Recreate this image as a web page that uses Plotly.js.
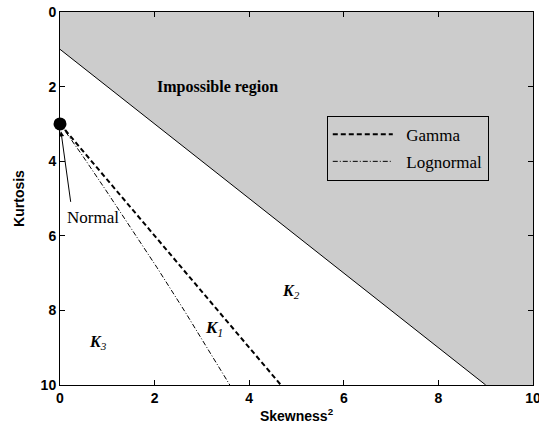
<!DOCTYPE html>
<html>
<head>
<meta charset="utf-8">
<script src="https://cdn.plot.ly/plotly-3.0.1.min.js"></script>
<style>html,body{margin:0;padding:0;background:#fff;}#chart{width:539px;height:433px;}</style>
</head>
<body>
<div id="chart"></div>
<script>
// Boundary of the impossible region (kurtosis = skewness^2 + 1)
const boundarySkew2 = [0, 9];
const boundaryKurt = [1, 10];
// Impossible region polygon
const impossibleSkew2 = [0, 9, 10, 10, 0, 0];
const impossibleKurt = [1, 10, 10, 0, 0, 1];
// Gamma line
const gammaSkew2 = [0, 1.0, 2.0, 3.0, 4.0, 4.67];
const gammaKurt = [3, 4.5, 6.0, 7.5, 9.0, 10];
// Lognormal curve
const lognormSkew2 = [0, 0.47, 0.96, 1.49, 2.05, 2.64, 3.27, 3.59];
const lognormKurt = [3, 3.84, 4.76, 5.76, 6.85, 8.03, 9.32, 10];
// Normal point
const normalSkew2 = [0];
const normalKurt = [3];
// Axis ticks
const xTicks = [0, 2, 4, 6, 8, 10];
const yTicks = [0, 2, 4, 6, 8, 10];

const serif = "Liberation Serif, Times New Roman, serif";
const sans = "Liberation Sans, Arial, sans-serif";

const traces = [
  {x: impossibleSkew2, y: impossibleKurt, mode: 'lines', fill: 'toself',
   fillcolor: '#cccccc', line: {width: 0, color: '#cccccc'}, showlegend: false, hoverinfo: 'skip'},
  {x: boundarySkew2, y: boundaryKurt, mode: 'lines', line: {color: '#000', width: 1},
   showlegend: false},
  {x: gammaSkew2, y: gammaKurt, mode: 'lines', name: '&nbsp;&nbsp;Gamma', legendgroup: 'g',
   line: {color: '#000', width: 2, dash: '5px,3px'}},
  {x: lognormSkew2, y: lognormKurt, mode: 'lines', name: '&nbsp;&nbsp;Lognormal', legendgroup: 'l',
   line: {color: '#000', width: 1, dash: '5px,2px,1px,2px'}},
  {x: normalSkew2, y: normalKurt, mode: 'markers', showlegend: false, cliponaxis: false,
   marker: {color: '#000', size: 13, symbol: 'circle'}}
];

const axisCommon = {
  showgrid: false, zeroline: false, showline: true, linecolor: '#000', linewidth: 1,
  mirror: 'ticks', ticks: 'inside', ticklen: 5, tickcolor: '#000',
  ticklabeloverflow: 'allow',
  tickfont: {family: sans, size: 14, color: '#000', weight: 'bold'}
};

const layout = {
  width: 539, height: 433,
  margin: {l: 60, r: 6, t: 12, b: 48},
  paper_bgcolor: '#fff', plot_bgcolor: '#fff',
  showlegend: true,
  legend: {x: 0.564, y: 0.722, xanchor: 'left', yanchor: 'top',
           bgcolor: 'rgba(0,0,0,0)', bordercolor: '#000', borderwidth: 1,
           font: {family: serif, size: 17, color: '#000'}, itemwidth: 60,
           tracegroupgap: 2},
  xaxis: Object.assign({}, axisCommon, {
    range: [0, 10], tickvals: xTicks, ticktext: xTicks.map(String),
    title: {text: 'Skewness<sup>2</sup>', standoff: 6,
            font: {family: sans, size: 14, color: '#000', weight: 'bold'}}
  }),
  yaxis: Object.assign({}, axisCommon, {
    range: [10, 0], tickvals: yTicks, ticktext: yTicks.map(String),
    title: {text: 'Kurtosis', standoff: 12,
            font: {family: sans, size: 14, color: '#000', weight: 'bold'}}
  }),
  annotations: [
    {x: 3.32, y: 2.02, text: '<b>Impossible region</b>', showarrow: false,
     font: {family: serif, size: 16, color: '#000'}},
    {x: 0.7, y: 5.5, text: 'Normal', showarrow: false,
     font: {family: serif, size: 17, color: '#000'}},
    {x: 0.02, y: 3.2, ax: 0.23, ay: 5.13, axref: 'x', ayref: 'y', text: '',
     showarrow: true, arrowhead: 2, arrowsize: 1, arrowwidth: 1, arrowcolor: '#000'},
    {x: 3.26, y: 8.5, text: '<b><i>K</i></b><sub><i>1</i></sub>', showarrow: false,
     font: {family: serif, size: 17, color: '#000'}},
    {x: 4.88, y: 7.5, text: '<b><i>K</i></b><sub><i>2</i></sub>', showarrow: false,
     font: {family: serif, size: 16, color: '#000'}},
    {x: 0.8, y: 8.85, text: '<b><i>K</i></b><sub><i>3</i></sub>', showarrow: false,
     font: {family: serif, size: 16, color: '#000'}}
  ]
};

Plotly.newPlot('chart', traces, layout, {displayModeBar: false, staticPlot: true});
</script>
</body>
</html>
